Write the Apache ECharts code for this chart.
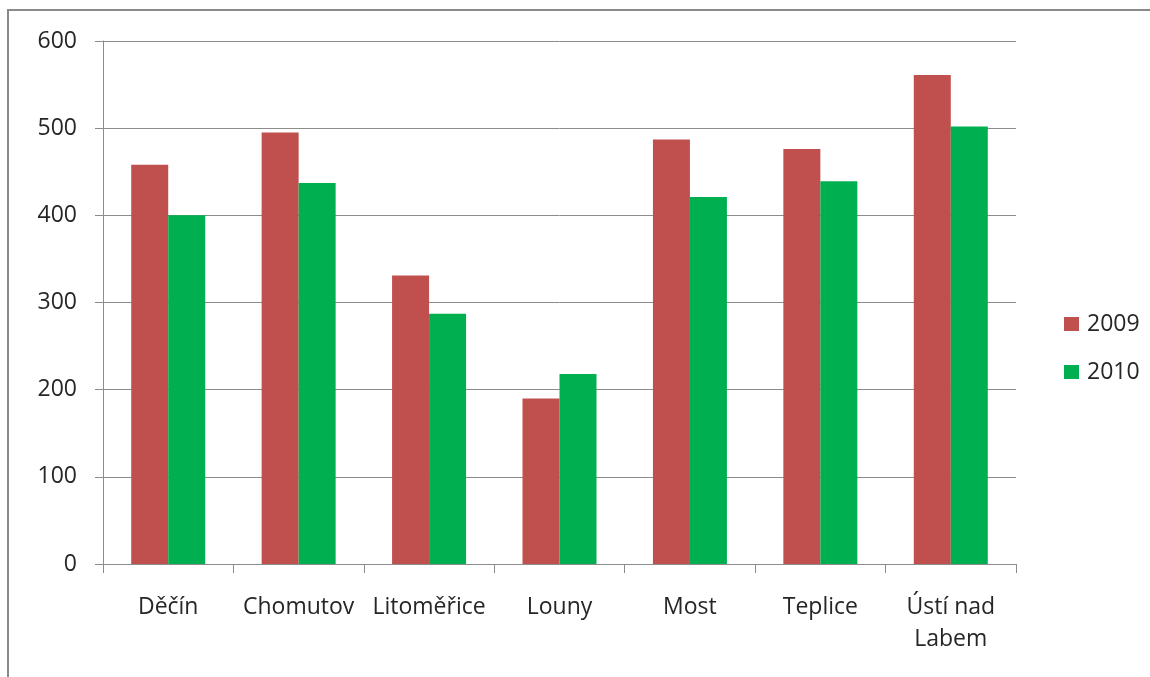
<!DOCTYPE html>
<html>
<head>
<meta charset="utf-8">
<script src="https://cdn.jsdelivr.net/npm/echarts@6/dist/echarts.min.js"></script>
<style>
  html, body { margin: 0; padding: 0; background: #fff; }
  #chart { width: 1150px; height: 677px; }
</style>
</head>
<body>
<div id="chart"></div>
<script>
// Districts of the Ústí nad Labem region
const categories = ['Děčín', 'Chomutov', 'Litoměřice', 'Louny', 'Most', 'Teplice', 'Ústí nad\nLabem'];
const values2009 = [458, 495, 331, 190, 487, 476, 561];
const values2010 = [400, 437, 287, 218, 421, 439, 502];
const yTicks = { min: 0, max: 600, interval: 100 };

const FONT = '"Open Sans", "Noto Sans", sans-serif';
const TEXT = '#262626';
const LINE = '#8c8c8c';

const chart = echarts.init(document.getElementById('chart'), null, { renderer: 'canvas' });
chart.setOption({
  backgroundColor: '#fff',
  animation: false,
  graphic: [{
    type: 'rect',
    shape: { x: 8, y: 10, width: 1200, height: 720 },
    style: { fill: 'none', stroke: '#8a8a8a', lineWidth: 2 },
    silent: true
  }],
  grid: { left: 103, right: 134, top: 41, bottom: 113, containLabel: false },
  legend: {
    orient: 'vertical',
    left: 1059,
    top: 307,
    itemWidth: 15,
    itemHeight: 14,
    itemGap: 24,
    icon: 'rect',
    textStyle: { fontFamily: FONT, fontSize: 23, lineHeight: 24, color: TEXT, padding: [0, 0, 0, 3] },
    data: ['2009', '2010']
  },
  xAxis: {
    type: 'category',
    data: categories,
    axisLine: { lineStyle: { color: LINE, width: 1 } },
    axisTick: { show: true, length: 9, lineStyle: { color: LINE } },
    axisLabel: {
      fontFamily: FONT, fontSize: 23, color: TEXT,
      margin: 27, lineHeight: 32, interval: 0
    }
  },
  yAxis: {
    type: 'value',
    min: yTicks.min, max: yTicks.max, interval: yTicks.interval,
    axisLine: { show: true, lineStyle: { color: LINE, width: 1 } },
    axisTick: { show: true, length: 8, lineStyle: { color: LINE } },
    splitLine: { lineStyle: { color: LINE, width: 1 } },
    axisLabel: { fontFamily: FONT, fontSize: 23, color: TEXT, margin: 26 }
  },
  series: [
    {
      name: '2009', type: 'bar', data: values2009,
      barWidth: 37, barGap: '0%',
      itemStyle: { color: '#C0504D' }
    },
    {
      name: '2010', type: 'bar', data: values2010,
      barWidth: 37, barGap: '0%',
      itemStyle: { color: '#00B050' }
    }
  ]
});
</script>
</body>
</html>
